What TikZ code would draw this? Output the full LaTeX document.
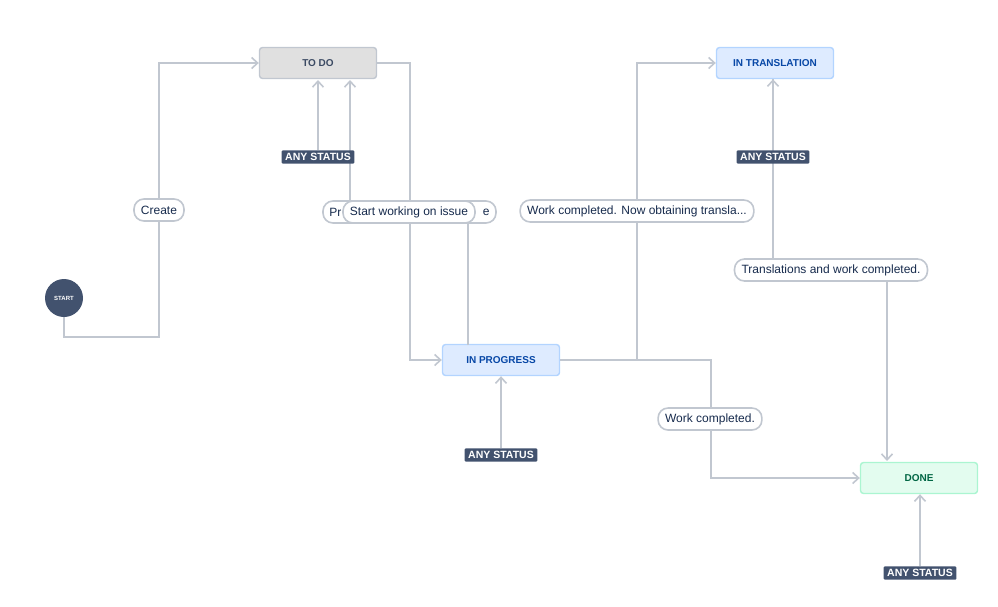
\documentclass[tikz,border=0pt]{standalone}
\usepackage{fontspec}
\setmainfont{Liberation Sans}
\usetikzlibrary{arrows.meta}
\definecolor{ln}{HTML}{C1C7D0}
\definecolor{navy}{HTML}{42526E}
\definecolor{txt}{HTML}{172B4D}
\begin{document}
\begin{tikzpicture}[x=1pt,y=-1pt,
  conn/.style={draw=ln,line width=1.6pt,-{Straight Barb[length=6pt,width=11pt]}},
  status/.style={rounded corners=3pt,line width=1.4pt,minimum width=117pt,minimum height=31pt,font=\fontsize{10}{12}\selectfont\bfseries},
  lbl/.style={draw=ln,line width=1.6pt,fill=white,rounded corners=10pt,minimum height=22pt,inner xsep=7pt,font=\fontsize{12}{14}\selectfont,text=txt},
  any/.style={fill=navy,text=white,font=\fontsize{10.5}{12}\selectfont\bfseries,inner xsep=3.5pt,inner ysep=3pt,rounded corners=1pt}]
\useasboundingbox (0,0) rectangle (998,606);
\node[status,fill=black!12!white,draw=ln,text=navy!90!black] (todo) at (318,63) {TO DO};
\node[status,fill={rgb,255:red,222;green,235;blue,255},draw={rgb,255:red,179;green,212;blue,255},text={rgb,255:red,7;green,71;blue,166}] (trans) at (775,63) {IN TRANSLATION};
\node[status,fill={rgb,255:red,222;green,235;blue,255},draw={rgb,255:red,179;green,212;blue,255},text={rgb,255:red,7;green,71;blue,166}] (prog) at (501,360) {IN PROGRESS};
\node[status,fill={rgb,255:red,227;green,252;blue,239},draw={rgb,255:red,171;green,245;blue,209},text={rgb,255:red,0;green,102;blue,68}] (done) at (919,478) {DONE};
\node[circle,fill=navy,minimum size=38pt,inner sep=0pt,text=white,font=\fontsize{6}{7}\selectfont\bfseries] (start) at (64,298) {START};
% start -> todo
\draw[conn] (start.south) |- (159,337) -- (159,63) -- (todo.west);
\node[lbl] (lcreate) at (159,210) {Create};
% todo -> prog
\draw[conn] (todo.east) -- (410,63) -- (410,360) -- (prog.west);
% prog -> todo
\draw[conn] (468,345) -- (468,213) -- (350,213) -- (350,80);
\node[lbl,minimum width=173pt] (lback) at (409.5,212) {};
\node[anchor=west,inner sep=0pt,font=\fontsize{12}{14}\selectfont,text=txt] (lbackA) at ([xshift=7pt]lback.west) {Pr};
\node[anchor=east,inner sep=0pt,font=\fontsize{12}{14}\selectfont,text=txt] (lbackB) at ([xshift=-7pt]lback.east) {e};
\node[lbl] (lstart) at (409,212) {Start working on issue};
% prog -> trans
\draw[conn] (prog.east) -- (637,360) -- (637,63) -- (trans.west);
\node[lbl] (lwc1) at (637,211) {Work completed. Now obtaining transla...};
% prog -> done
\draw[conn] (prog.east) -- (711,360) -- (711,478) -- (done.west);
\node[lbl] (lwc2) at (710,419) {Work completed.};
% trans -> done
\draw[conn] (773,79) -- (773,270) -- (887,270) -- (887,461);
\node[lbl] (ltr) at (831,270) {Translations and work completed.};
% any status
\node[any] (a1) at (318,157) {ANY STATUS};
\draw[conn] (a1.north) -- (318,80);
\node[any] (a2) at (773,157) {ANY STATUS};
\draw[conn] (a2.north) -- (trans.south -| a2.north);
\node[any] (a3) at (501,455) {ANY STATUS};
\draw[conn] (a3.north) -- (prog.south);
\node[any] (a4) at (920,573) {ANY STATUS};
\draw[conn] (a4.north) -- (done.south -| a4.north);
\end{tikzpicture}
\end{document}
